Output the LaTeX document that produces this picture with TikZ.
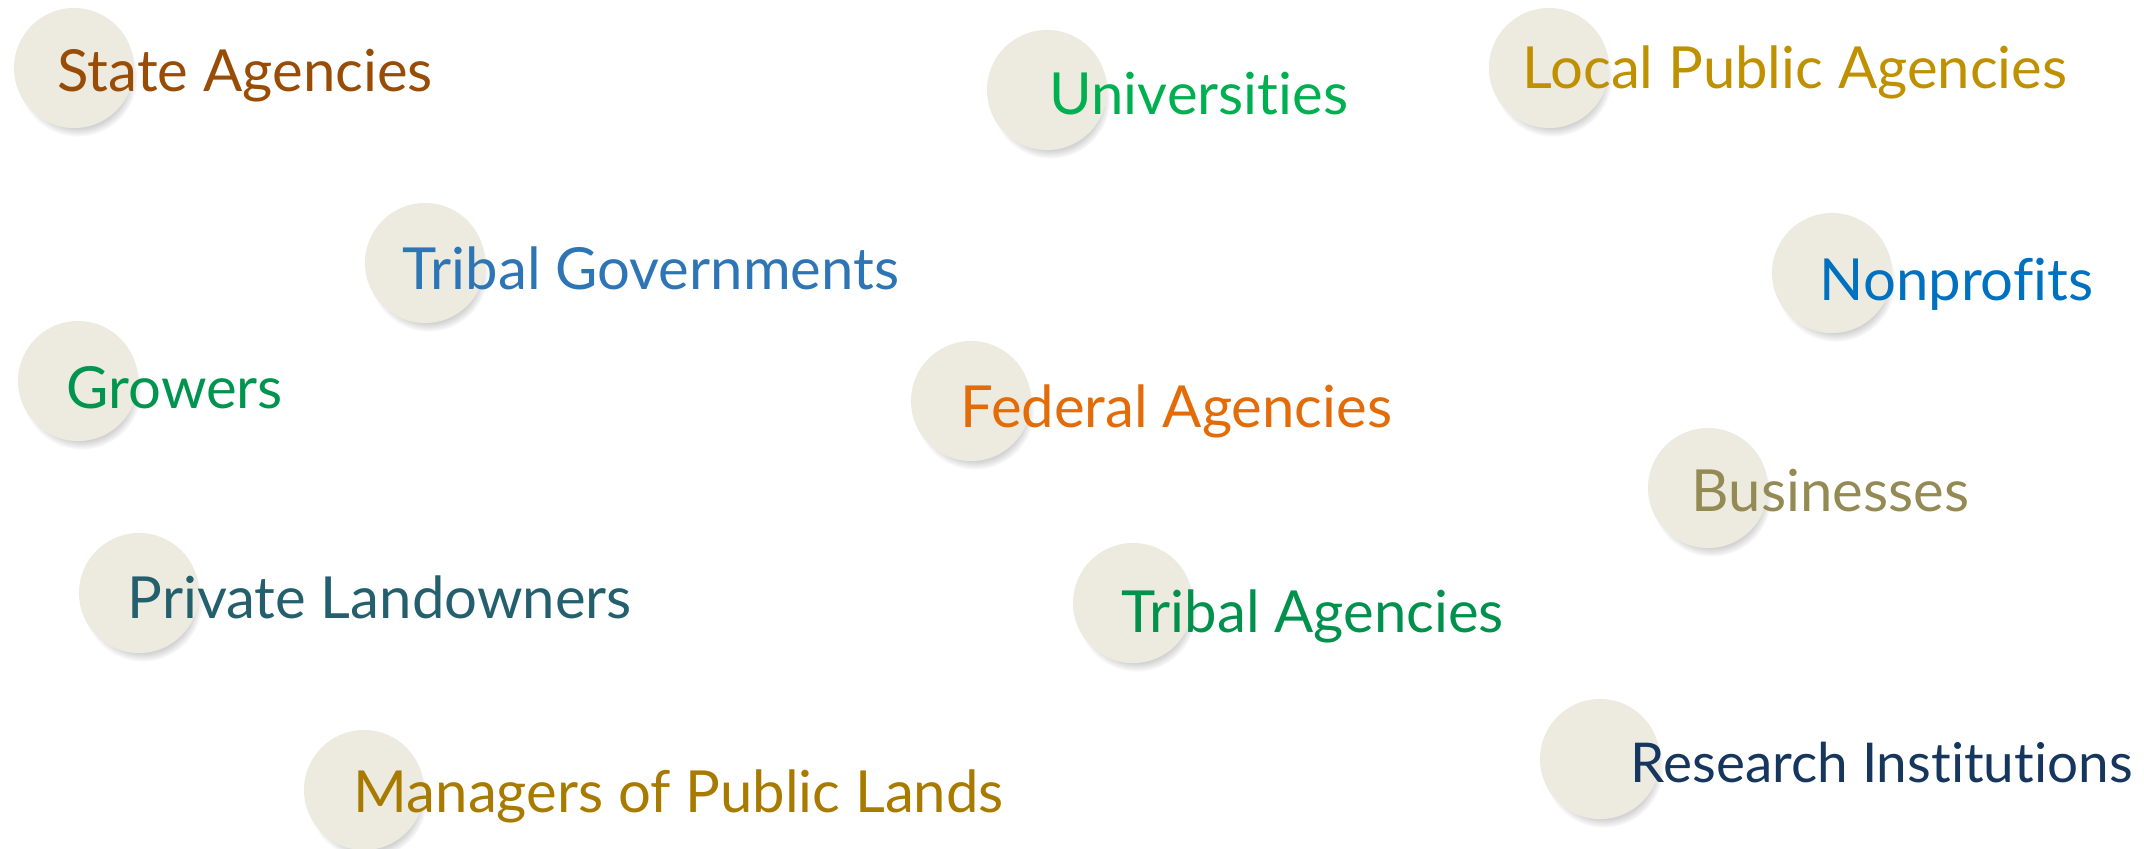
\documentclass[tikz,border=0pt]{standalone}
\usepackage{fontspec}
\setmainfont{Lato}[Ligatures={NoCommon,NoRare,NoDiscretionary}]
\usetikzlibrary{calc, shadows}

\definecolor{bubble}{HTML}{EDEBE0}
\definecolor{stateC}{HTML}{984C06}
\definecolor{univC}{HTML}{00B050}
\definecolor{localC}{HTML}{BF9000}
\definecolor{tribgovC}{HTML}{2E75B6}
\definecolor{nonprofC}{HTML}{0070C0}
\definecolor{growC}{HTML}{00954E}
\definecolor{fedC}{HTML}{E36C09}
\definecolor{busC}{HTML}{948A54}
\definecolor{privC}{HTML}{235F6D}
\definecolor{tribagC}{HTML}{00914C}
\definecolor{manC}{HTML}{A87B00}
\definecolor{resC}{HTML}{17365D}

\begin{document}
\begin{tikzpicture}[x=0.01cm, y=-0.01cm,
    dot/.style={circle, fill=bubble, minimum size=1.2cm, inner sep=0pt,
        circular drop shadow={shadow scale=1.0, shadow xshift=1pt, shadow yshift=-2.5pt, opacity=0.35}},
    lbl/.style={anchor=base west, inner sep=0pt, font=\fontsize{16.5}{18}\selectfont}]
    \useasboundingbox (0,0) rectangle (2144,849);

    % bubbles
    \node[dot] (state) at (74,68) {};
    \node[dot] (univ) at (1047,90) {};
    \node[dot] (local) at (1549,68) {};
    \node[dot] (tribgov) at (425,263) {};
    \node[dot] (nonprof) at (1832,273) {};
    \node[dot] (grow) at (78,381) {};
    \node[dot] (fed) at (971,401) {};
    \node[dot] (bus) at (1708,488) {};
    \node[dot] (priv) at (139,593) {};
    \node[dot] (tribag) at (1133,603) {};
    \node[dot] (man) at (364,790) {};
    \node[dot] (res) at (1600,759) {};

    % labels, set a little left of each bubble's centre
    \node[lbl, text=stateC] (stateLbl) at ($(state.center)+(-17,24)$) {State Agencies};
    \node[lbl, text=univC] (univLbl) at ($(univ.center)+(2,25)$) {Universities};
    \node[lbl, text=localC] (localLbl) at ($(local.center)+(-27,21)$) {Local Public Agencies};
    \node[lbl, text=tribgovC] (tribgovLbl) at ($(tribgov.center)+(-23,27)$) {Tribal Governments};
    \node[lbl, text=nonprofC] (nonprofLbl) at ($(nonprof.center)+(-13,28)$) {Nonprofits};
    \node[lbl, text=growC] (growLbl) at ($(grow.center)+(-12,28)$) {Growers};
    \node[lbl, text=fedC] (fedLbl) at ($(fed.center)+(-11,27)$) {Federal Agencies};
    \node[lbl, text=busC] (busLbl) at ($(bus.center)+(-17,24)$) {Businesses};
    \node[lbl, text=privC] (privLbl) at ($(priv.center)+(-12,26)$) {Private Landowners};
    \node[lbl, text=tribagC] (tribagLbl) at ($(tribag.center)+(-12,30)$) {Tribal Agencies};
    \node[lbl, text=manC] (manLbl) at ($(man.center)+(-11,23)$) {Managers of Public Lands};
    \node[lbl, text=resC, font=\fontsize{15.6}{18}\selectfont] (resLbl) at ($(res.center)+(30,24)$) {Research Institutions};
\end{tikzpicture}
\end{document}
